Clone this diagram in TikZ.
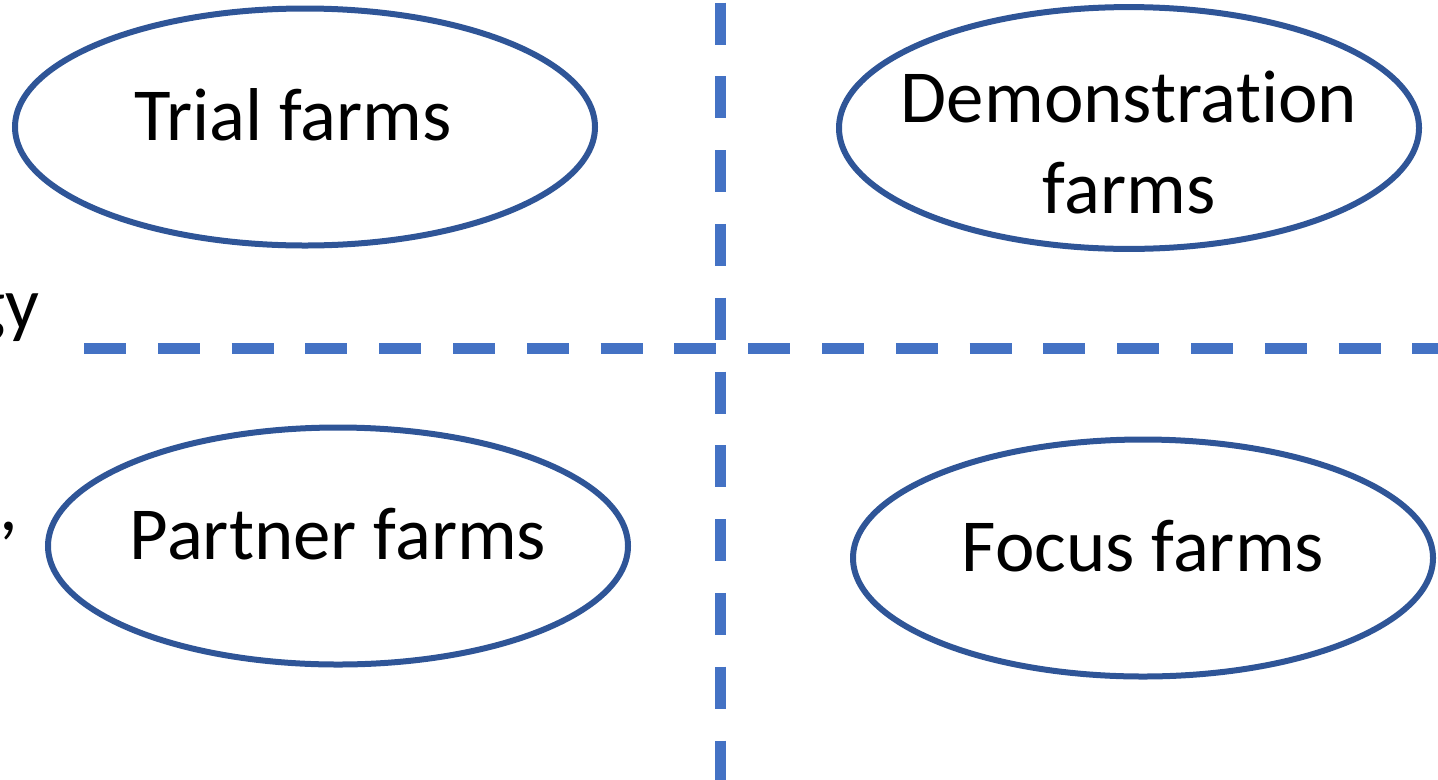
\documentclass[tikz,border=0pt]{standalone}
\usepackage{fontspec}
\setmainfont{Carlito}[Ligatures=NoCommon]
\usetikzlibrary{shapes.geometric}
\usetikzlibrary{positioning}
\definecolor{farm_blue}{HTML}{2F5597}
\definecolor{split_blue}{HTML}{4472C4}
\tikzstyle{farm_node} = [
    ellipse,
    draw=farm_blue,
    line width=0.06cm,
    align=center,
    inner sep=0pt,
    inner xsep=-0.4cm, % keeps long labels from widening the ellipse
    minimum width=5.80cm,
    minimum height=2.37cm,
    text depth=0.24cm,
    font=\fontsize{21.3}{25.8}\selectfont
]
\tikzstyle{split_line} = [
    draw=split_blue,
    line width=0.11cm,
    dash pattern=on 0.42cm off 0.318cm
]
\tikzstyle{cut_text} = [
    inner sep=0pt,
    anchor=base east,
    font=\fontsize{21.3}{25.8}\selectfont
]

\begin{document}
\begin{tikzpicture}
\useasboundingbox (0,0) rectangle (14.38,-7.79);
% quadrant dividers
\coordinate (v_top) at (7.20,-0.025);
\coordinate (v_bot) at (7.20,-8.00);
\coordinate (h_left) at (0.84,-3.485);
\coordinate (h_right) at (14.60,-3.485);
\draw [split_line] (v_top) -- (v_bot);
\draw [split_line] (h_left) -- (h_right);
% farm types
\node [farm_node] (trial) at (3.05,-1.27) {Trial farms\hspace{0.24cm}};
\node [farm_node, text depth=0cm, text height=1.71cm] (demo) at (11.29,-1.28) {Demonstration\\farms};
\node [farm_node] (partner) at (3.38,-5.46) {Partner farms};
\node [farm_node] (focus) at (11.43,-5.58) {Focus farms};
% text cut at the left edge
\node [cut_text] (cut_top) at (0.40,-3.29) {gy};
\node [cut_text] (cut_bot) at (0.19,-5.30) {e,};
\end{tikzpicture}
\end{document}
